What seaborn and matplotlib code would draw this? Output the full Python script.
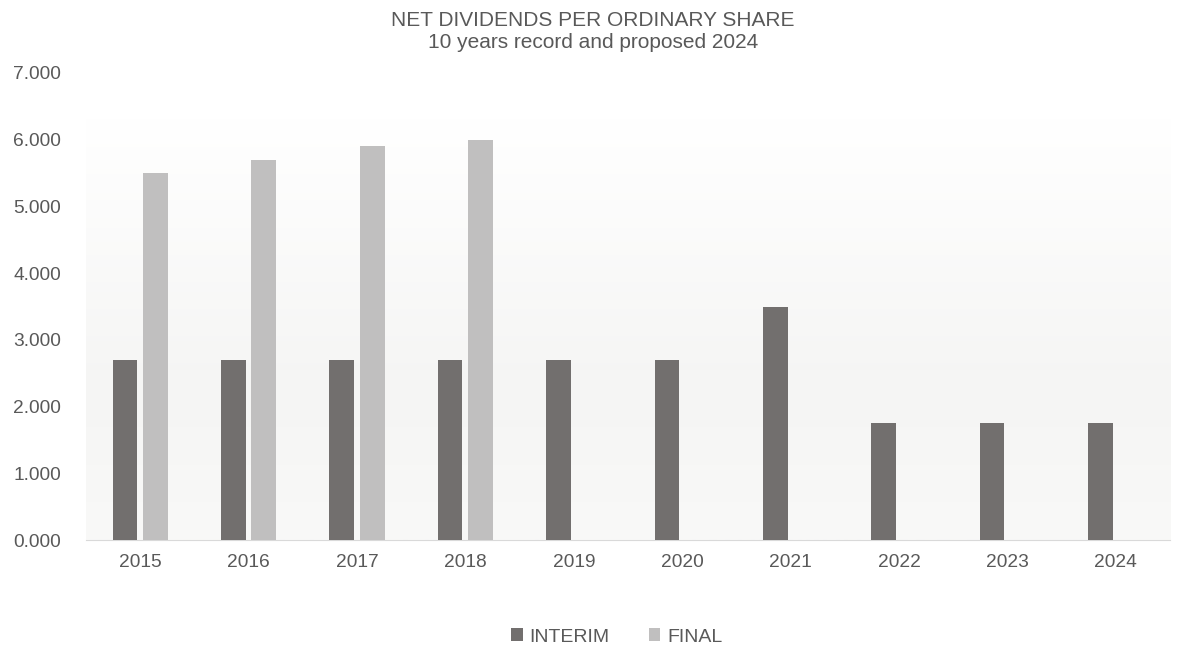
import numpy as np
import pandas as pd
import matplotlib
matplotlib.use("Agg")
import matplotlib.pyplot as plt
from matplotlib.colors import LinearSegmentedColormap
import seaborn as sns

years = ["2015", "2016", "2017", "2018", "2019", "2020", "2021", "2022", "2023", "2024"]
interim = [2.7, 2.7, 2.7, 2.7, 2.7, 2.7, 3.5, 1.75, 1.75, 1.75]
final = [5.5, 5.7, 5.9, 6.0, np.nan, np.nan, np.nan, np.nan, np.nan, np.nan]

df = pd.DataFrame({"year": years, "INTERIM": interim, "FINAL": final})
df = df.melt(id_vars="year", var_name="type", value_name="value")

sns.set_style("white")
plt.rcParams["font.family"] = ["Liberation Sans", "DejaVu Sans"]
txt = "#595959"

fig = plt.figure(figsize=(11.86, 6.5), dpi=100)
ax = fig.add_axes([0.0725, 0.1692, 0.914, 0.7185])

sns.barplot(data=df, x="year", y="value", hue="type", ax=ax,
            palette={"INTERIM": "#736f6d", "FINAL": "#c0bfbf"},
            width=0.564, gap=0.19, linewidth=0, legend=True, zorder=3)

# soft vertical gradient behind the bars
cmap = LinearSegmentedColormap.from_list("bg", [(0, "#f9f9f8"), (0.32, "#f5f5f4"), (0.9, "#ffffff"), (1, "#ffffff")])
grad = np.linspace(0, 1, 256).reshape(-1, 1)
ax.imshow(grad, cmap=cmap, origin="lower", aspect="auto",
          extent=[-0.5, 9.5, 0, 7], zorder=0)

ax.set_xlim(-0.5, 9.5)
ax.set_ylim(0, 7)
ax.set_yticks(np.arange(0, 8, 1))
ax.set_yticklabels([f"{v:.3f}" for v in range(8)])
ax.set_xlabel("")
ax.set_ylabel("")
for s in ["top", "right", "left"]:
    ax.spines[s].set_visible(False)
ax.spines["bottom"].set_color("#d9d9d9")
ax.tick_params(axis="both", length=0, labelsize=13.8, colors=txt)
ax.tick_params(axis="x", pad=10)
ax.tick_params(axis="y", pad=18)

fig.text(0.5, 0.968, "NET DIVIDENDS PER ORDINARY SHARE", ha="center", va="center",
         fontsize=15, color=txt)
fig.text(0.5, 0.934, "10 years record and proposed 2024", ha="center", va="center",
         fontsize=15, color=txt)

h, l = ax.get_legend_handles_labels()
ax.get_legend().remove()
fig.legend(h, l, loc="center", bbox_to_anchor=(0.52, 0.02), ncol=2, frameon=False,
           fontsize=14, labelcolor=txt, handlelength=0.6, handleheight=0.6,
           handletextpad=0.35, columnspacing=2.0)

fig.savefig("out.png", dpi=100)
